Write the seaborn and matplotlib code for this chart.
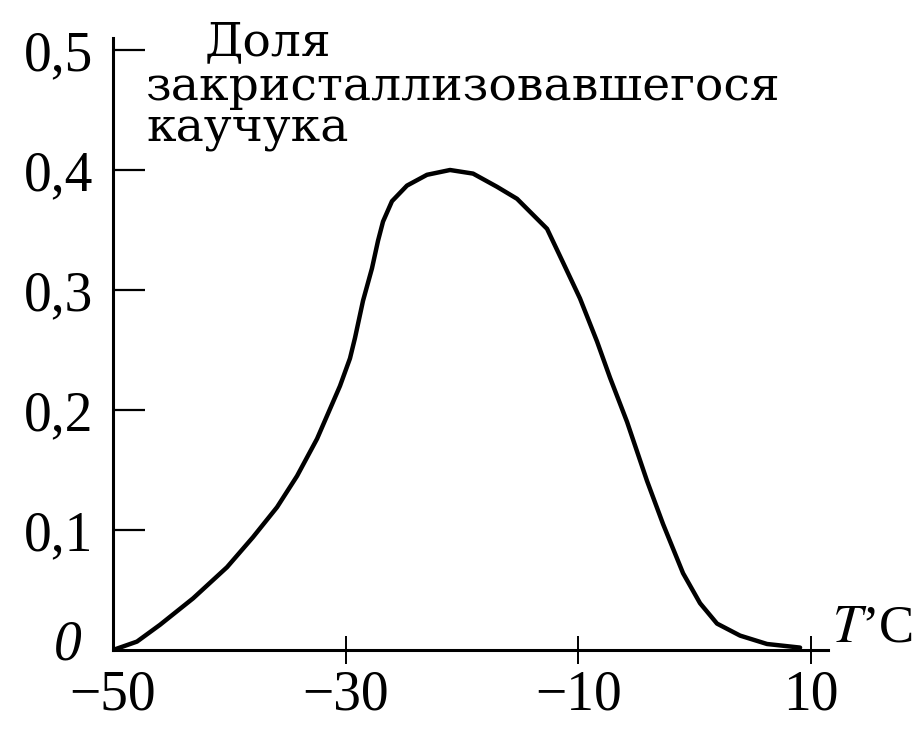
import matplotlib
matplotlib.use("Agg")
import matplotlib.pyplot as plt
import matplotlib.transforms as mtransforms
import seaborn as sns
import pandas as pd

# Temperature, °C
temperature = [-50.00, -47.94, -45.96, -43.12, -40.20, -37.97, -35.90, -34.18, -32.46, -30.49,
               -29.63, -29.20, -28.51, -27.74, -27.22, -26.79, -26.02, -24.73, -23.01, -21.03,
               -19.05, -16.99, -15.27, -12.69, -11.32, -9.86, -8.39, -7.28, -5.81, -4.10,
               -2.72, -1.00, 0.46, 1.92, 3.90, 6.22, 9.06]
# Fraction of crystallized rubber
fraction = [0.000, 0.007, 0.021, 0.043, 0.069, 0.094, 0.119, 0.145, 0.176, 0.220,
            0.243, 0.260, 0.291, 0.318, 0.341, 0.357, 0.374, 0.387, 0.396, 0.400,
            0.397, 0.386, 0.376, 0.351, 0.323, 0.293, 0.257, 0.227, 0.190, 0.141,
            0.105, 0.064, 0.039, 0.022, 0.012, 0.005, 0.002]

x_ticks = [-50, -30, -10, 10]
x_tick_labels = ["\u221250", "\u221230", "\u221210", "10"]
y_ticks = [0.0, 0.1, 0.2, 0.3, 0.4, 0.5]
y_tick_labels = ["0", "0,1", "0,2", "0,3", "0,4", "0,5"]

df = pd.DataFrame({"T": temperature, "frac": fraction})

sns.set_theme(style="white")
plt.rcParams["mathtext.fontset"] = "stix"

fig = plt.figure(figsize=(9.15, 7.33), dpi=100)
ax = fig.add_axes([113 / 915, 1 - 650 / 733, (828 - 113) / 915, (650 - 38) / 733])

sns.lineplot(data=df, x="T", y="frac", ax=ax, color="black", linewidth=3.2,
             estimator=None, sort=False, solid_joinstyle="round", solid_capstyle="round")

ax.set_xlim(-50, 11.46)
ax.set_ylim(0, 0.51)

for s in ["top", "right"]:
    ax.spines[s].set_visible(False)
for s in ["left", "bottom"]:
    ax.spines[s].set_color("black")
    ax.spines[s].set_linewidth(2.2)

ax.set_xticks(x_ticks)
ax.set_xticklabels(x_tick_labels, fontfamily="Liberation Serif", fontsize=40)
ax.set_yticks(y_ticks)
ax.set_yticklabels(y_tick_labels, fontfamily="Liberation Serif", fontsize=40)

ax.tick_params(axis="y", left=True, direction="in", length=23, width=1.6,
               color="black", labelcolor="black", pad=14)
ax.tick_params(axis="x", bottom=True, direction="inout", length=20, width=1.4,
               color="black", labelcolor="black", pad=4)
ax.yaxis.majorTicks[0].tick1line.set_visible(False)
ax.xaxis.majorTicks[0].tick1line.set_visible(False)

# the "0" label sits a little higher and further left, in italics
zero_lbl = ax.get_yticklabels()[0]
zero_lbl.set_fontstyle("italic")
zero_lbl.set_transform(zero_lbl.get_transform() +
                       mtransforms.ScaledTranslation(-0.12, 0.10, fig.dpi_scale_trans))

ax.set_xlabel("")
ax.set_ylabel("")

ax.text(205 / 915, 1 - 55 / 733, "Доля", transform=fig.transFigure,
        fontfamily="DejaVu Serif", fontsize=34, va="baseline", ha="left", color="black")
ax.text(146 / 915, 1 - 100 / 733, "закристаллизовавшегося", transform=fig.transFigure,
        fontfamily="DejaVu Serif", fontsize=34, va="baseline", ha="left", color="black")
ax.text(146 / 915, 1 - 142 / 733, "каучука", transform=fig.transFigure,
        fontfamily="DejaVu Serif", fontsize=34, va="baseline", ha="left", color="black")

ax.text(832 / 915, 1 - 642 / 733, "$T$\u2019C", transform=fig.transFigure,
        fontfamily="Liberation Serif", fontsize=38, va="baseline", ha="left", color="black")

fig.savefig("out.png", dpi=100, facecolor="white")
